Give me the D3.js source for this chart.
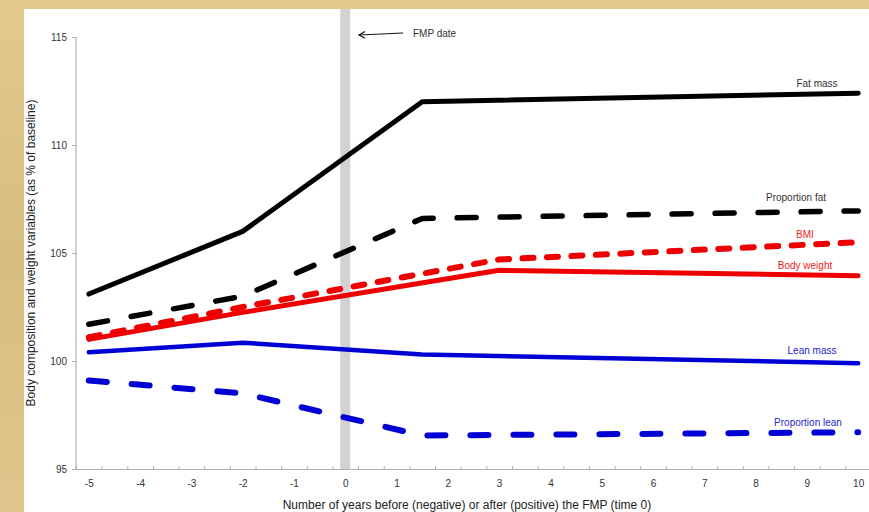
<!DOCTYPE html>
<html>
<head>
<meta charset="utf-8">
<script src="https://cdn.jsdelivr.net/npm/d3@7"></script>
<style>
  html, body { margin: 0; padding: 0; background: #dcc38a; }
  svg { display: block; font-family: "Liberation Sans", Arial, sans-serif; }
</style>
</head>
<body>
<div id="chart"></div>
<script>
// values (% of baseline), x = years relative to FMP
var fatMass = [[-5, 103.1], [-2, 106.0], [1.5, 112.0], [10, 112.4]];
var propFat = [[-5, 101.7], [-2, 103.0], [1.5, 106.6], [10, 106.95]];
var bmi = [[-5, 101.1], [-2, 102.5], [3, 104.7], [10, 105.5]];
var bodyWeight = [[-5, 101.0], [-2, 102.25], [3, 104.2], [10, 103.95]];
var leanMass = [[-5, 100.4], [-2, 100.85], [1.5, 100.3], [10, 99.9]];
var propLean = [[-5, 99.1], [-2, 98.5], [1.5, 96.55], [10, 96.7]];

var yTicks = [95, 100, 105, 110, 115];
var xLabels = d3.range(-5, 11);

var W = 869, H = 512;

var svg = d3.select('#chart').append('svg')
  .attr('width', W)
  .attr('height', H);

// parchment-ish backdrop with a white panel on top
var defs = svg.append('defs');
var grad = defs.append('linearGradient').attr('id', 'parch')
  .attr('x1', 0).attr('y1', 0).attr('x2', 0).attr('y2', 1);
grad.append('stop').attr('offset', '0%').attr('stop-color', '#e3c98e');
grad.append('stop').attr('offset', '50%').attr('stop-color', '#d8bd80');
grad.append('stop').attr('offset', '100%').attr('stop-color', '#e0c68c');
svg.append('rect').attr('width', W).attr('height', H).attr('fill', 'url(#parch)');
svg.append('rect')
  .attr('x', 24).attr('y', 9)
  .attr('width', W - 24).attr('height', H - 9)
  .attr('fill', '#fff');

var x = d3.scaleLinear().domain([-5.25, 10.25]).range([76, 871]);
var y = d3.scaleLinear().domain([95, 115]).range([469, 37]);

// FMP band
svg.append('rect')
  .attr('x', x(0) - 5).attr('y', 9)
  .attr('width', 10).attr('height', y(95) - 9)
  .attr('fill', '#d2d2d2');

// axes
var axisColor = '#b0b0b0';
var yAxis = svg.append('g')
  .attr('transform', 'translate(' + x(-5.25) + ',0)')
  .call(d3.axisLeft(y).tickValues(yTicks).tickSize(4).tickPadding(5));

var xTickVals = d3.range(0, 32).map(function(i) { return -5.25 + i * 0.5; });
var xAxis = svg.append('g')
  .attr('transform', 'translate(0,' + y(95) + ')')
  .call(d3.axisBottom(x).tickValues(xTickVals).tickSize(-3).tickFormat(''));
var xLab = svg.append('g')
  .attr('transform', 'translate(0,' + y(95) + ')')
  .call(d3.axisBottom(x).tickValues(xLabels).tickSize(0).tickPadding(11)
    .tickFormat(function(d) { return String(d); }));
xLab.select('.domain').remove();

[yAxis, xAxis, xLab].forEach(function(g) {
  g.select('.domain').attr('stroke', axisColor).attr('stroke-width', 1.2);
  g.selectAll('.tick line').attr('stroke', axisColor);
  g.selectAll('.tick text').attr('fill', '#333').style('font-size', '10px');
});
yAxis.select('.domain').attr('d', 'M0,' + y(115) + 'V' + y(95));

// series
var line = d3.line()
  .x(function(d) { return x(d[0]); })
  .y(function(d) { return y(d[1]); });

var series = [
  { data: propLean, color: '#0000d4', width: 6, dash: '18,25' },
  { data: leanMass, color: '#0000d4', width: 4.5, dash: null },
  { data: bodyWeight, color: '#ee0000', width: 5, dash: null },
  { data: bmi, color: '#ee0000', width: 6, dash: '11,13.5' },
  { data: propFat, color: '#000', width: 5.5, dash: '19,24' },
  { data: fatMass, color: '#000', width: 5, dash: null }
];

svg.selectAll('path.series')
  .data(series)
  .enter().append('path')
  .attr('class', 'series')
  .attr('d', function(d) { return line(d.data); })
  .attr('fill', 'none')
  .attr('stroke', function(d) { return d.color; })
  .attr('stroke-width', function(d) { return d.width; })
  .attr('stroke-dasharray', function(d) { return d.dash; })
  .attr('stroke-linecap', 'round')
  .attr('stroke-linejoin', 'round');

// direct labels
var labels = [
  { text: 'Fat mass', x: 817, y: 87, color: '#333' },
  { text: 'Proportion fat', x: 796, y: 201, color: '#333' },
  { text: 'BMI', x: 805, y: 238, color: '#ee2222' },
  { text: 'Body weight', x: 805, y: 269, color: '#ee2222' },
  { text: 'Lean mass', x: 812, y: 354, color: '#2222cc' },
  { text: 'Proportion lean', x: 808, y: 426, color: '#2828cc' }
];
svg.selectAll('text.lbl')
  .data(labels)
  .enter().append('text')
  .attr('class', 'lbl')
  .attr('x', function(d) { return d.x; })
  .attr('y', function(d) { return d.y; })
  .attr('text-anchor', 'middle')
  .attr('fill', function(d) { return d.color; })
  .style('font-size', '10px')
  .text(function(d) { return d.text; });

// FMP date note with an open arrow head
svg.append('line')
  .attr('x1', 403).attr('y1', 33).attr('x2', 359).attr('y2', 35)
  .attr('stroke', '#111').attr('stroke-width', 1);
svg.append('path')
  .attr('d', 'M365,31.5 L359,35 L365,38.2')
  .attr('fill', 'none').attr('stroke', '#111').attr('stroke-width', 1.2);
svg.append('text')
  .attr('x', 413).attr('y', 37)
  .attr('fill', '#333').style('font-size', '10px')
  .text('FMP date');

// axis titles
svg.append('text')
  .attr('transform', 'translate(35,253) rotate(-90)')
  .attr('text-anchor', 'middle')
  .attr('fill', '#222').style('font-size', '12px')
  .text('Body composition and weight variables (as % of baseline)');
svg.append('text')
  .attr('x', 467).attr('y', 509)
  .attr('text-anchor', 'middle')
  .attr('fill', '#222').style('font-size', '12px')
  .text('Number of years before (negative) or after (positive) the FMP (time 0)');
</script>
</body>
</html>
